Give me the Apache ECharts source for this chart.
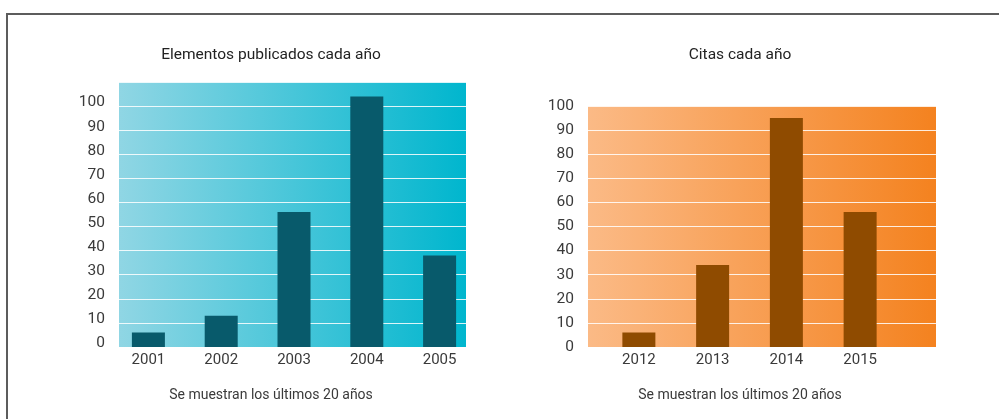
<!DOCTYPE html>
<html>
<head>
<meta charset="utf-8">
<script src="https://cdn.jsdelivr.net/npm/echarts@6/dist/echarts.min.js"></script>
<style>
  html, body { margin: 0; padding: 0; background: #fff; }
  #chart { width: 999px; height: 419px; }
</style>
</head>
<body>
<div id="chart"></div>
<script>
// Published items per year
const pubYears = ['2001', '2002', '2003', '2004', '2005'];
const pubCounts = [6, 13, 56, 104, 38];

// Citations per year
const citeYears = ['2012', '2013', '2014', '2015'];
const citeCounts = [6, 34, 95, 56];

const titleLeft = 'Elementos publicados cada año';
const titleRight = 'Citas cada año';
const footNote = 'Se muestran los últimos 20 años';

const FONT = "Roboto, 'Noto Sans', sans-serif";
const TEXT = '#3a3a3a';

function hGradient(c0, c1) {
  return new echarts.graphic.LinearGradient(0, 0, 1, 0, [
    { offset: 0, color: c0 },
    { offset: 1, color: c1 }
  ]);
}

const chart = echarts.init(document.getElementById('chart'), null, { renderer: 'canvas' });

// Two grids per panel: one carries the shaded area + value gridlines,
// the other (slightly wider) carries the category bands for the bars.
const option = {
  animation: false,
  textStyle: { fontFamily: FONT },
  title: [
    { text: titleLeft, left: 271, top: 47, textAlign: 'center', padding: 0,
      textStyle: { fontFamily: FONT, fontSize: 15.5, fontWeight: 'normal', color: '#222' } },
    { text: titleRight, left: 740, top: 47, textAlign: 'center', padding: 0,
      textStyle: { fontFamily: FONT, fontSize: 15.5, fontWeight: 'normal', color: '#222' } },
    { text: footNote, left: 271, top: 388, textAlign: 'center', padding: 0,
      textStyle: { fontFamily: FONT, fontSize: 14, fontWeight: 'normal', color: TEXT } },
    { text: footNote, left: 740, top: 388, textAlign: 'center', padding: 0,
      textStyle: { fontFamily: FONT, fontSize: 14, fontWeight: 'normal', color: TEXT } }
  ],
  graphic: [
    { type: 'rect', silent: true, z: -1,
      shape: { x: 7, y: 14, width: 1200, height: 600 },
      style: { fill: 'none', stroke: '#5c5c5c', lineWidth: 2 } }
  ],
  grid: [
    { left: 119, width: 347, top: 82, bottom: 72, show: true, borderWidth: 0,
      backgroundColor: hGradient('#90d6e4', '#00b6ce') },
    { left: 112, width: 364, top: 82, bottom: 72 },
    { left: 588, width: 348, top: 106, bottom: 72, show: true, borderWidth: 0,
      backgroundColor: hGradient('#fbba86', '#f4821f') },
    { left: 602, width: 295, top: 106, bottom: 72 }
  ],
  xAxis: [
    { gridIndex: 0, type: 'value', show: false, min: 0, max: 1 },
    { gridIndex: 1, type: 'category', data: pubYears,
      axisLine: { show: false }, axisTick: { show: false },
      axisLabel: { margin: 6, fontFamily: FONT, fontSize: 15, color: TEXT } },
    { gridIndex: 2, type: 'value', show: false, min: 0, max: 1 },
    { gridIndex: 3, type: 'category', data: citeYears,
      axisLine: { show: false }, axisTick: { show: false },
      axisLabel: { margin: 6, fontFamily: FONT, fontSize: 15, color: TEXT } }
  ],
  yAxis: [
    { gridIndex: 0, type: 'value', min: 0, max: 110, interval: 10,
      axisLine: { show: false }, axisTick: { show: false },
      axisLabel: { margin: 14, fontFamily: FONT, fontSize: 15.5, color: TEXT,
        showMaxLabel: false, verticalAlign: 'bottom', lineHeight: 7 },
      splitLine: { lineStyle: { color: 'rgba(255,255,255,0.85)', width: 1 } } },
    { gridIndex: 1, type: 'value', min: 0, max: 110, show: false,
      splitLine: { show: false } },
    { gridIndex: 2, type: 'value', min: 0, max: 100, interval: 10,
      axisLine: { show: false }, axisTick: { show: false },
      axisLabel: { margin: 14, fontFamily: FONT, fontSize: 15.5, color: TEXT },
      splitLine: { lineStyle: { color: 'rgba(255,255,255,0.85)', width: 1 } } },
    { gridIndex: 3, type: 'value', min: 0, max: 100, show: false,
      splitLine: { show: false } }
  ],
  series: [
    { type: 'bar', xAxisIndex: 1, yAxisIndex: 1, data: pubCounts,
      barWidth: 33, itemStyle: { color: '#085a6b' } },
    { type: 'bar', xAxisIndex: 3, yAxisIndex: 3, data: citeCounts,
      barWidth: 33, itemStyle: { color: '#8f4b00' } }
  ]
};

chart.setOption(option);
</script>
</body>
</html>
